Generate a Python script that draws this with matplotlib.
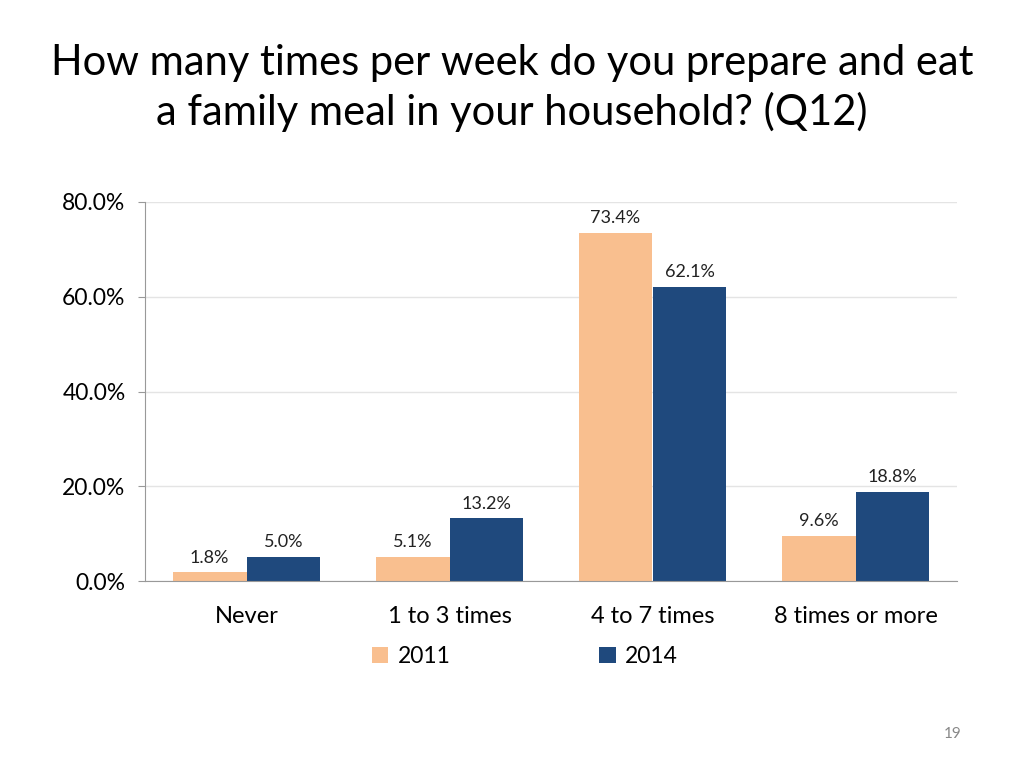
import numpy as np
import matplotlib.pyplot as plt

categories = ['Never', '1 to 3 times', '4 to 7 times', '8 times or more']
vals_2011 = [1.8, 5.1, 73.4, 9.6]
vals_2014 = [5.0, 13.2, 62.1, 18.8]
yticks = [0, 20, 40, 60, 80]

plt.rcParams['font.family'] = ['Lato', 'DejaVu Sans']

fig = plt.figure(figsize=(10.24, 7.68), dpi=100)
ax = fig.add_axes([145/1024, 1-581/768, 812/1024, 379/768])

x = np.arange(len(categories))
w = 0.364
b1 = ax.bar(x - w/2, vals_2011, w, color='#F9BF8F', label='2011')
b2 = ax.bar(x + w/2, vals_2014, w, color='#1F497D', label='2014')

for bars, vals in ((b1, vals_2011), (b2, vals_2014)):
    for r, v in zip(bars, vals):
        ax.annotate(f'{v:.1f}%', (r.get_x() + r.get_width()/2, v),
                    xytext=(0, 5), textcoords='offset points',
                    ha='center', va='bottom', fontsize=13, color='#222222')

ax.set_xlim(-0.5, 3.5)
ax.set_ylim(0, 80)
ax.set_yticks(yticks)
ax.set_yticklabels([f'{t:.1f}%' for t in yticks], fontsize=16.5)
ax.set_xticks(x)
ax.set_xticklabels(categories, fontsize=17)
ax.tick_params(axis='x', length=0, pad=18)
ax.tick_params(axis='y', length=5, color='#999999', pad=9)
ax.grid(axis='y', color='#e4e4e4', linewidth=1)
ax.set_axisbelow(True)
for s in ['top', 'right']:
    ax.spines[s].set_visible(False)
ax.spines['left'].set_color('#999999')
ax.spines['bottom'].set_color('#999999')

ax.legend(loc='center', bbox_to_anchor=(0.468, -0.2), ncol=2, frameon=False,
          fontsize=16.5, handlelength=0.7, handleheight=0.7, handletextpad=0.4,
          columnspacing=6.5)

fig.text(0.5, 1-88/768, 'How many times per week do you prepare and eat\na family meal in your household? (Q12)',
         ha='center', va='center', fontsize=30, linespacing=1.3)
fig.text(953/1024, 1-734/768, '19', ha='center', va='center', fontsize=11, color='#888888')

fig.savefig('out.png', dpi=100)
